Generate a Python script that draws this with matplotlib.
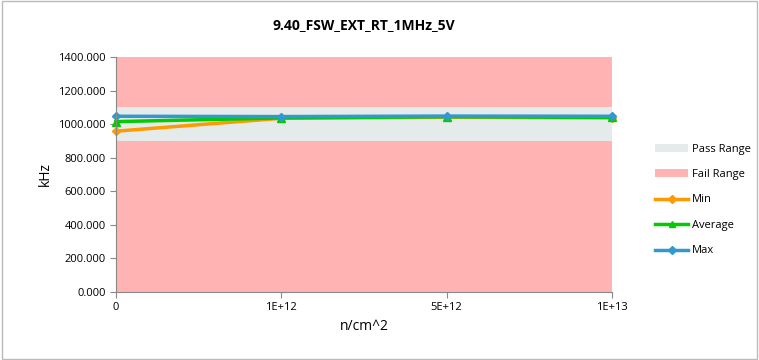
import matplotlib
matplotlib.use('Agg')
import matplotlib.pyplot as plt
from matplotlib.patches import Rectangle

categories = ['0', '1E+12', '5E+12', '1E+13']
min_vals = [958, 1035, 1042, 1038]
avg_vals = [1015, 1037, 1044, 1040]
max_vals = [1047, 1045, 1048, 1047]
pass_low, pass_high = 900, 1100
fail_low, fail_high = 0, 1400

plt.rcParams['font.family'] = ['Open Sans', 'DejaVu Sans']

fig = plt.figure(figsize=(7.59, 3.6), dpi=100)
ax = fig.add_axes([116/759, 1-292/360, (612-116)/759, (292-57)/360])

x = list(range(len(categories)))
ax.fill_between(x, fail_low, fail_high, color='#ffb3b3', lw=0, label='Fail Range')
ax.fill_between(x, pass_low, pass_high, color='#e5eaea', lw=0, label='Pass Range')
ax.plot(x, min_vals, color='#ff9900', lw=2.5, marker='D', ms=4.5, label='Min', clip_on=False)
ax.plot(x, avg_vals, color='#00cc00', lw=2.5, marker='^', ms=5.5, label='Average', clip_on=False)
ax.plot(x, max_vals, color='#3399cc', lw=2.5, marker='D', ms=4.5, label='Max', clip_on=False)

ax.set_xlim(0, 3)
ax.set_ylim(0, 1400)
ax.set_yticks(range(0, 1401, 200))
ax.set_yticklabels(['%.3f' % v for v in range(0, 1401, 200)])
ax.set_xticks(x)
ax.set_xticklabels(categories)
ax.tick_params(labelsize=8, color='#888888', length=4)
for s in ['top', 'right']:
    ax.spines[s].set_visible(False)
for s in ['left', 'bottom']:
    ax.spines[s].set_color('#888888')

ax.set_xlabel('n/cm^2', fontsize=10)
ax.set_ylabel('kHz', fontsize=10)
ax.set_title('9.40_FSW_EXT_RT_1MHz_5V', fontsize=10, fontweight='bold', pad=20)

h, l = ax.get_legend_handles_labels()
order = [1, 0, 2, 3, 4]
fig.legend([h[i] for i in order], [l[i] for i in order], loc='center left',
           bbox_to_anchor=(645/759, 1-200/360), frameon=False, fontsize=8,
           labelspacing=1.3, handlelength=3, handletextpad=0.3, markerscale=0.8)

fig.add_artist(Rectangle((0.002, 0.003), 0.996, 0.994, transform=fig.transFigure,
                         fill=False, edgecolor='#bbbbbb', lw=1))

fig.savefig('out.png', dpi=100)
